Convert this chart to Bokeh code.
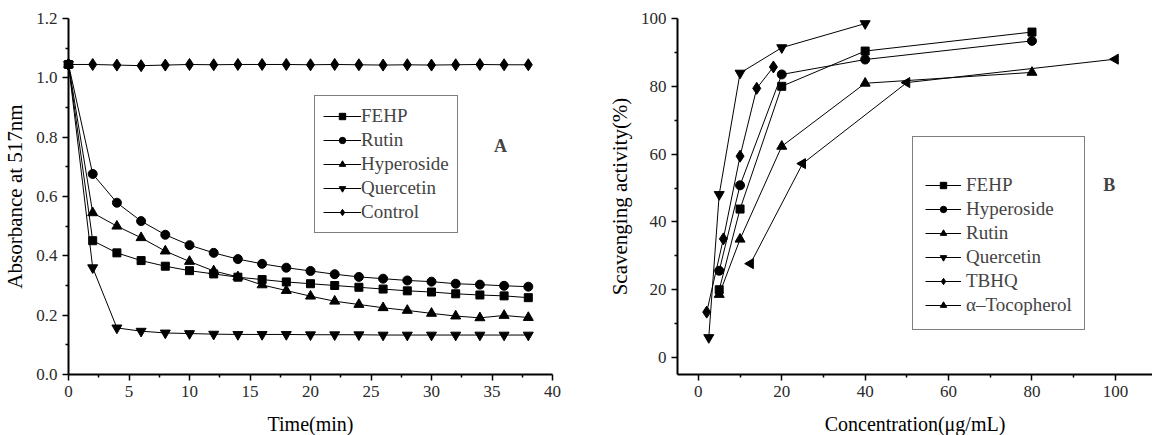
from bokeh.plotting import figure
from bokeh.layouts import row
from bokeh.models import Range1d, FixedTicker, Legend, LegendItem, Label, PrintfTickFormatter
from bokeh.core.properties import value
from bokeh.embed import file_html
from bokeh.resources import INLINE

FONT = "Liberation Serif"

# ---------------- Panel A data ----------------
time_min = [0, 2, 4, 6, 8, 10, 12, 14, 16, 18, 20, 22, 24, 26, 28, 30, 32, 34, 36, 38]
a_fehp = [1.045, 0.451, 0.410, 0.384, 0.365, 0.350, 0.339, 0.328, 0.320, 0.312,
          0.306, 0.300, 0.294, 0.288, 0.282, 0.278, 0.272, 0.268, 0.265, 0.259]
a_rutin = [1.045, 0.676, 0.579, 0.517, 0.471, 0.436, 0.410, 0.389, 0.373, 0.360,
           0.349, 0.338, 0.329, 0.323, 0.317, 0.313, 0.306, 0.303, 0.299, 0.296]
a_hyperoside = [1.045, 0.545, 0.500, 0.461, 0.416, 0.381, 0.349, 0.329, 0.302, 0.283,
                0.264, 0.247, 0.236, 0.225, 0.216, 0.206, 0.197, 0.191, 0.199, 0.192]
a_quercetin = [1.045, 0.360, 0.157, 0.146, 0.140, 0.138, 0.136, 0.135, 0.135, 0.135,
               0.134, 0.134, 0.134, 0.133, 0.133, 0.133, 0.133, 0.133, 0.133, 0.133]
a_control = [1.045, 1.045, 1.043, 1.041, 1.043, 1.045, 1.044, 1.045, 1.045, 1.045,
             1.044, 1.045, 1.044, 1.043, 1.044, 1.043, 1.044, 1.045, 1.044, 1.044]
a_xticks = [0, 5, 10, 15, 20, 25, 30, 35, 40]
a_xminor = [2.5, 7.5, 12.5, 17.5, 22.5, 27.5, 32.5, 37.5]
a_yticks = [0.0, 0.2, 0.4, 0.6, 0.8, 1.0, 1.2]
a_yminor = [0.1, 0.3, 0.5, 0.7, 0.9, 1.1]

# ---------------- Panel B data ----------------
b_fehp_x = [5, 10, 20, 40, 80]
b_fehp_y = [20.0, 43.8, 80.0, 90.4, 96.0]
b_hyper_x = [5, 10, 20, 40, 80]
b_hyper_y = [25.6, 50.8, 83.5, 87.9, 93.4]
b_rutin_x = [5, 10, 20, 40, 80]
b_rutin_y = [18.6, 34.9, 62.3, 80.9, 84.1]
b_querc_x = [2.5, 5, 10, 20, 40]
b_querc_y = [5.9, 48.1, 83.9, 91.4, 98.5]
b_tbhq_x = [2, 6, 10, 14, 18]
b_tbhq_y = [13.4, 35.0, 59.4, 79.4, 85.7]
b_toco_x = [12.5, 25, 50, 100]
b_toco_y = [27.7, 57.2, 81.1, 88.0]
b_xticks = [0, 20, 40, 60, 80, 100]
b_xminor = [10, 30, 50, 70, 90]
b_yticks = [0, 20, 40, 60, 80, 100]
b_yminor = [10, 30, 50, 70, 90]

H = 435
A_BORDER = dict(left=68, right=48, top=18, bottom=60)
B_BORDER = dict(left=77, right=0, top=16, bottom=61)


def style_axes(p):
    p.grid.visible = False
    p.outline_line_color = None
    p.background_fill_color = "white"
    p.border_fill_color = "white"
    for ax in (p.xaxis[0], p.yaxis[0]):
        ax.axis_line_width = 2
        ax.axis_line_color = "black"
        ax.major_tick_in = 0
        ax.major_tick_out = 6
        ax.minor_tick_in = 0
        ax.minor_tick_out = 3
        ax.major_tick_line_width = 1.5
        ax.minor_tick_line_width = 1.5
        ax.major_tick_line_color = "black"
        ax.minor_tick_line_color = "black"
        ax.major_label_text_font = FONT
        ax.major_label_text_font_size = "17px"
        ax.major_label_text_color = "#2a2a2a"
        ax.axis_label_text_font = FONT
        ax.axis_label_text_font_style = "normal"
        ax.axis_label_text_color = "black"
        ax.major_label_standoff = 5
    p.yaxis[0].axis_label_text_font_size = "21px"


def x_title(p, border, text, offset_px=50):
    # x-axis title drawn as text below the frame (converted from a pixel offset to data units)
    xr, yr = p.x_range, p.y_range
    frame_h = H - border["top"] - border["bottom"]
    per_px = (yr.end - yr.start) / frame_h
    p.text(x=[(xr.start + xr.end) / 2], y=[yr.start - offset_px * per_px], text=[text],
           text_font=value(FONT), text_font_size="20px", text_color="black",
           text_align="center", text_baseline="middle", level="overlay")


def add_series(p, x, y, marker, size, angle=0.0):
    ln = p.line(x, y, line_color="black", line_width=1)
    sc = p.scatter(x, y, marker=marker, size=size, angle=angle,
                   fill_color="black", line_color="black", level="overlay")
    return [ln, sc]


# ---------------- Panel A ----------------
p1 = figure(width=600, height=H, output_backend="svg", toolbar_location=None,
            x_range=Range1d(a_xticks[0], a_xticks[-1]), y_range=Range1d(a_yticks[0], a_yticks[-1]),
            min_border_left=A_BORDER["left"], min_border_right=A_BORDER["right"],
            min_border_top=A_BORDER["top"], min_border_bottom=A_BORDER["bottom"])
style_axes(p1)
p1.yaxis.axis_label = "Absorbance at 517nm"
p1.xaxis.ticker = FixedTicker(ticks=a_xticks, minor_ticks=a_xminor)
p1.yaxis.ticker = FixedTicker(ticks=a_yticks, minor_ticks=a_yminor)
p1.yaxis.formatter = PrintfTickFormatter(format="%.1f")
p1.yaxis.axis_label_standoff = 6
x_title(p1, A_BORDER, "Time(min)")

series_a = [
    ("FEHP", a_fehp, "square", 8),
    ("Rutin", a_rutin, "circle", 9),
    ("Hyperoside", a_hyperoside, "triangle", 10),
    ("Quercetin", a_quercetin, "inverted_triangle", 10),
    ("Control", a_control, "diamond", 12),
]
items_a = []
for name, vals, mk, sz in series_a:
    rs = add_series(p1, time_min, vals, mk, sz)
    items_a.append(LegendItem(label=name, renderers=rs))

leg_a = Legend(items=items_a, location=(246, 141), orientation="vertical",
               border_line_color="black", border_line_width=1, background_fill_color="white",
               background_fill_alpha=1.0, label_text_font=FONT, label_text_font_size="19px",
               glyph_width=38, glyph_height=16, label_height=24, label_standoff=0,
               spacing=0, padding=8, margin=0)
p1.add_layout(leg_a, "center")
p1.add_layout(Label(x=35.7, y=0.77, text="A", text_font=FONT, text_font_size="18px",
                    text_font_style="bold", text_align="center", text_baseline="middle"))

# ---------------- Panel B ----------------
p2 = figure(width=552, height=H, output_backend="svg", toolbar_location=None,
            x_range=Range1d(-5, 108.9), y_range=Range1d(-5, 100),
            min_border_left=B_BORDER["left"], min_border_right=B_BORDER["right"],
            min_border_top=B_BORDER["top"], min_border_bottom=B_BORDER["bottom"])
style_axes(p2)
p2.yaxis.axis_label = "Scavenging activity(%)"
p2.xaxis.ticker = FixedTicker(ticks=b_xticks, minor_ticks=b_xminor)
p2.yaxis.ticker = FixedTicker(ticks=b_yticks, minor_ticks=b_yminor)
p2.yaxis.axis_label_standoff = 6
x_title(p2, B_BORDER, "Concentration(\u03bcg/mL)", offset_px=50)

series_b = [
    ("FEHP", b_fehp_x, b_fehp_y, "square", 8, 0.0),
    ("Hyperoside", b_hyper_x, b_hyper_y, "circle", 9, 0.0),
    ("Rutin", b_rutin_x, b_rutin_y, "triangle", 10, 0.0),
    ("Quercetin", b_querc_x, b_querc_y, "inverted_triangle", 10, 0.0),
    ("TBHQ", b_tbhq_x, b_tbhq_y, "diamond", 12, 0.0),
    ("\u03b1\u2013Tocopherol", b_toco_x, b_toco_y, "triangle", 10, 1.5707963),
]
items_b = []
for name, xs, ys, mk, sz, ang in series_b:
    rs = add_series(p2, xs, ys, mk, sz, ang)
    items_b.append(LegendItem(label=name, renderers=rs))

leg_b = Legend(items=items_b, location=(235, 44), orientation="vertical",
               title=" ", title_text_font=FONT, title_text_font_size="19px", title_standoff=2,
               border_line_color="black", border_line_width=1, background_fill_color="white",
               background_fill_alpha=1.0, label_text_font=FONT, label_text_font_size="19px",
               glyph_width=36, glyph_height=16, label_height=24, label_standoff=5,
               spacing=0, padding=12, margin=0)
p2.add_layout(leg_b, "center")
p2.add_layout(Label(x=98.5, y=50.9, text="B", text_font=FONT, text_font_size="18px",
                    text_font_style="bold", text_align="center", text_baseline="middle"))

layout = row(p1, p2, spacing=0)
open("out.html", "w").write(file_html(layout, INLINE))
